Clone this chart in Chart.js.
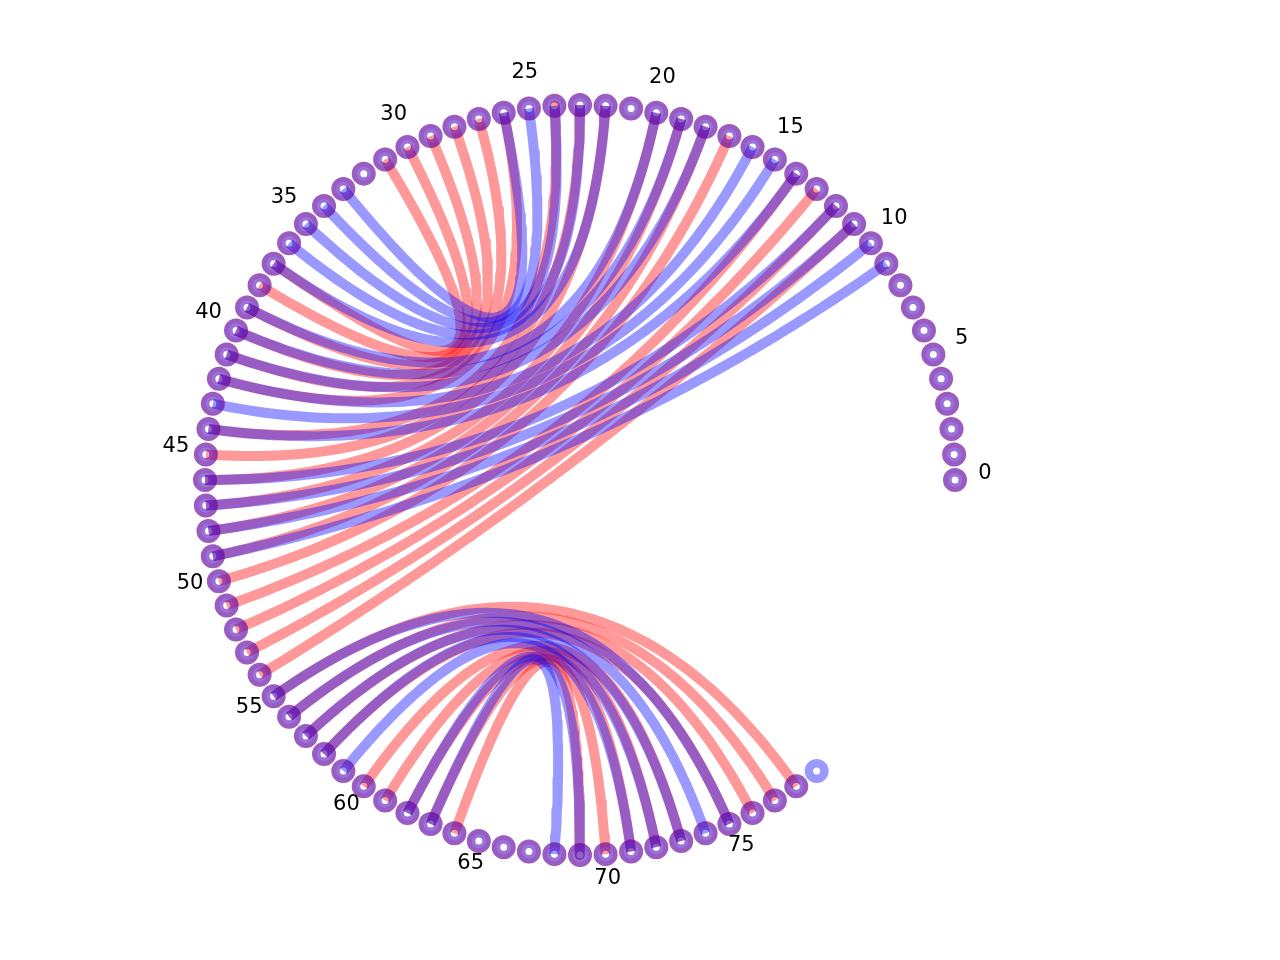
<!DOCTYPE html>
<html>
<head>
<meta charset="utf-8">
<script src="https://cdn.jsdelivr.net/npm/chart.js@4"></script>
<style>
  html, body { margin: 0; padding: 0; background: #ffffff; }
  #wrap { width: 1280px; height: 960px; position: relative; }
</style>
</head>
<body>
<div id="wrap"><canvas id="c"></canvas></div>
<script>
// ---- data ----
const nodeCount = 80;                 // nodes 0..79 placed around the circle
const redGraphNodes = 79;             // red graph has nodes 0..78
const blueGraphNodes = 80;            // blue graph has nodes 0..79
const tickLabels = ['0','5','10','15','20','25','30','35','40','45','50','55','60','65','70','75'];
const tickNodes  = [0,5,10,15,20,25,30,35,40,45,50,55,60,65,70,75];

const redFrom  = [31,30,29,28,27,26,24,23,22,20,19,18,17,14,13,12,11,64,63,62,61,60,58,57,56,55];
const redTo    = [37,38,39,40,41,42,44,45,46,47,48,49,50,51,52,53,54,69,70,71,72,73,75,76,77,78];
const blueFrom = [26,25,24,23,22,20,19,18,16,15,14,12,11,10,9,63,62,59,58,57,56,55];
const blueTo   = [33,34,35,36,37,39,40,41,42,43,44,46,47,48,49,68,69,71,72,73,74,75];

// ---- layout helpers ----
const STEP = Math.PI / 2 / 23;        // angular spacing between nodes
function nodePos(k, r) {
  r = r || 1;
  return { x: r * Math.cos(k * STEP), y: r * Math.sin(k * STEP) };
}
function chordPoints(a, b) {
  const p0 = nodePos(a), p2 = nodePos(b);
  const pts = [];
  const n = 80;
  for (let i = 0; i <= n; i++) {
    const t = i / n;
    const u = 1 - t;
    // quadratic bezier with control point at circle centre (0,0)
    pts.push({ x: u * u * p0.x + t * t * p2.x, y: u * u * p0.y + t * t * p2.y });
  }
  return pts;
}

const RED = 'rgba(255,0,0,0.4)';
const BLUE = 'rgba(0,0,255,0.4)';
const datasets = [];

redFrom.forEach((a, i) => {
  datasets.push({
    type: 'line', data: chordPoints(a, redTo[i]), borderColor: RED, borderWidth: 10,
    borderCapStyle: 'butt', borderJoinStyle: 'round', pointRadius: 0, tension: 0,
    fill: false, order: 40
  });
});
blueFrom.forEach((a, i) => {
  datasets.push({
    type: 'line', data: chordPoints(a, blueTo[i]), borderColor: BLUE, borderWidth: 10,
    borderCapStyle: 'butt', borderJoinStyle: 'round', pointRadius: 0, tension: 0,
    fill: false, order: 30
  });
});

const redNodePts = [];
for (let k = 0; k < redGraphNodes; k++) redNodePts.push(nodePos(k));
const blueNodePts = [];
for (let k = 0; k < blueGraphNodes; k++) blueNodePts.push(nodePos(k));

// red node rings (outer band + lighter inner band)
datasets.push({
  type: 'scatter', data: redNodePts, pointStyle: 'circle', pointRadius: 9.5,
  pointBorderWidth: 5, pointBackgroundColor: 'rgba(0,0,0,0)', pointBorderColor: RED, order: 20
});
datasets.push({
  type: 'scatter', data: redNodePts, pointStyle: 'circle', pointRadius: 5.25,
  pointBorderWidth: 3.5, pointBackgroundColor: 'rgba(0,0,0,0)', pointBorderColor: 'rgba(255,0,0,0.25)', order: 19
});
// blue node rings
datasets.push({
  type: 'scatter', data: blueNodePts, pointStyle: 'circle', pointRadius: 7.75,
  pointBorderWidth: 8.5, pointBackgroundColor: 'rgba(0,0,0,0)', pointBorderColor: BLUE, order: 10
});

const labelPlugin = {
  id: 'nodeLabels',
  afterDatasetsDraw(chart) {
    const ctx = chart.ctx, xs = chart.scales.x, ys = chart.scales.y;
    ctx.save();
    ctx.fillStyle = '#000000';
    ctx.font = '21px "DejaVu Sans", sans-serif';
    ctx.textAlign = 'center';
    ctx.textBaseline = 'middle';
    tickNodes.forEach((k, i) => {
      const p = nodePos(k, 1.08);
      ctx.fillText(tickLabels[i], xs.getPixelForValue(p.x), ys.getPixelForValue(p.y) - 6);
    });
    ctx.restore();
  }
};

new Chart(document.getElementById('c'), {
  type: 'scatter',
  data: { datasets },
  options: {
    responsive: true, maintainAspectRatio: false, animation: false,
    events: [],
    layout: { padding: 0, autoPadding: false },
    plugins: { legend: { display: false }, tooltip: { enabled: false }, title: { display: false } },
    scales: {
      x: { type: 'linear', display: false, min: -580 / 375, max: 700 / 375 },
      y: { type: 'linear', display: false, min: -1.28, max: 1.28 }
    }
  },
  plugins: [labelPlugin]
});
</script>
</body>
</html>
